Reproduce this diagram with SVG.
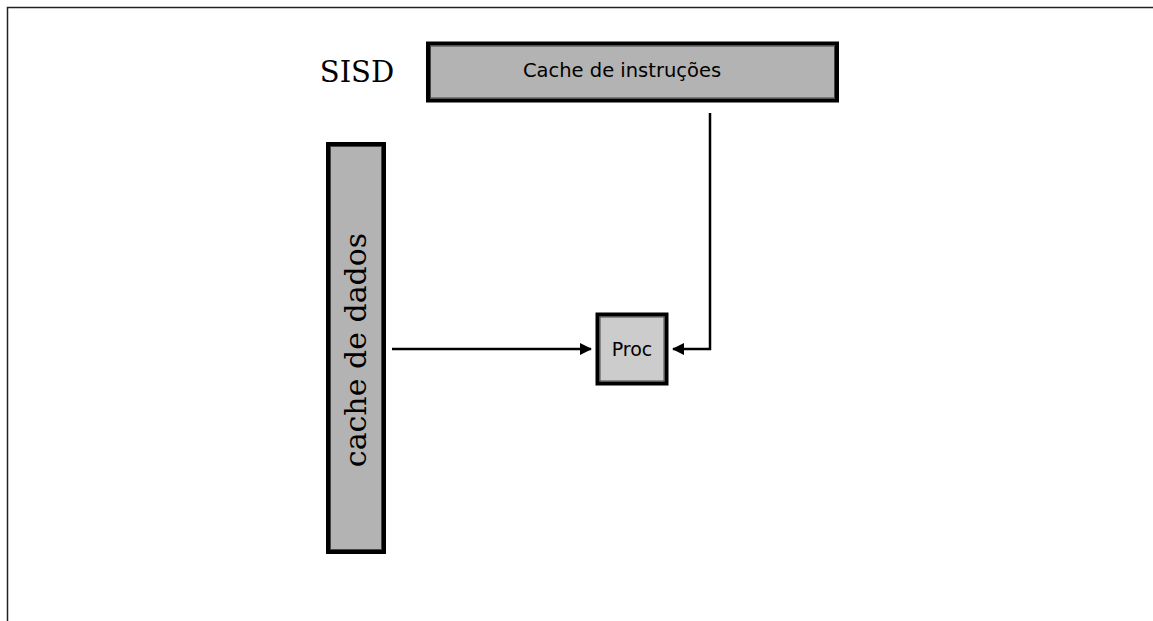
<svg xmlns="http://www.w3.org/2000/svg" width="1153" height="621" viewBox="0 0 1153 621">
<style>
.box{stroke:#000;stroke-width:4}
.inner{fill:none;stroke:#444;stroke-width:1}
.sans{font-family:"DejaVu Sans",sans-serif;fill:#000}
.serif{font-family:"DejaVu Serif","Liberation Serif",serif;fill:#000}
.conn{fill:none;stroke:#000;stroke-width:2.5}
</style>
<defs>
<marker id="ah" viewBox="0 0 12 12" refX="11" refY="6" markerWidth="12" markerHeight="12" markerUnits="userSpaceOnUse" orient="auto">
<path d="M0,0 L12,6 L0,12 z" fill="#000"/>
</marker>
</defs>
<rect width="1153" height="621" fill="#fff"/>
<path d="M7.5,621 V7.5 H1153" fill="none" stroke="#222" stroke-width="1.5"/>
<g id="label-sisd">
<text class="serif" x="357" y="82" font-size="29" text-anchor="middle">SISD</text>
</g>
<g id="cache-instrucoes">
<rect class="box" x="428" y="43.5" width="409" height="57" fill="#b3b3b3"/>
<rect class="inner" x="430.5" y="46" width="404" height="52"/>
<text class="sans" x="622" y="77" font-size="19.5" text-anchor="middle">Cache de instruções</text>
</g>
<g id="cache-dados">
<rect class="box" x="328" y="144" width="56" height="408" fill="#b3b3b3"/>
<rect class="inner" x="330.5" y="146.5" width="51" height="403"/>
<text class="serif" x="0" y="0" font-size="30" text-anchor="middle" transform="translate(366,350) rotate(-90)">cache de dados</text>
</g>
<g id="proc">
<rect class="box" x="597.5" y="314.5" width="69" height="69" fill="#cccccc"/>
<rect class="inner" x="600" y="317" width="64" height="64"/>
<text class="sans" x="632" y="356" font-size="19" text-anchor="middle">Proc</text>
</g>
<g id="connectors">
<path class="conn" d="M392,349 H591" marker-end="url(#ah)"/>
<path class="conn" d="M710,113 V349 H673" marker-end="url(#ah)"/>
</g>
</svg>
